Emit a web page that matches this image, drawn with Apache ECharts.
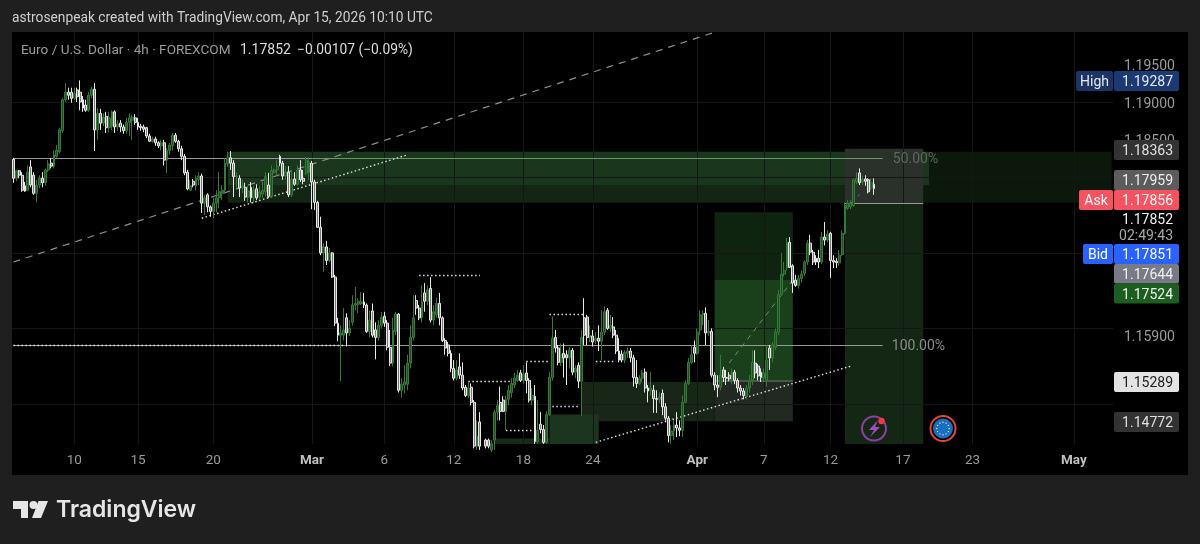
<!DOCTYPE html>
<html>
<head>
<meta charset="utf-8">
<style>
  html, body { margin: 0; padding: 0; background: #1f1f1f; }
  #chart { width: 1200px; height: 544px; }
</style>
<script src="https://cdn.jsdelivr.net/npm/echarts@6/dist/echarts.min.js"></script>
</head>
<body>
<div id="chart"></div>
<script>
// EUR/USD 4h bars, quoted in pips above 1.0000.
const opens = [1824,1799,1809,1803,1789,1783,1814,1803,1779,1790,1799,1793,1810,1819,1815,1828,1834,1862,1903,1913,1913,1905,1916,1913,1903,1896,1889,1909,1917,1863,1885,1872,1881,1866,1868,1887,1867,1872,1867,1862,1873,1876,1879,1873,1868,1867,1866,1855,1848,1851,1846,1842,1846,1823,1836,1842,1856,1848,1838,1828,1807,1783,1795,1789,1797,1802,1766,1777,1761,1755,1766,1773,1779,1783,1818,1826,1819,1801,1799,1786,1787,1774,1787,1773,1785,1774,1778,1781,1790,1775,1807,1810,1828,1819,1802,1807,1777,1798,1791,1810,1799,1806,1807,1819,1794,1767,1734,1700,1708,1690,1700,1668,1607,1591,1591,1614,1594,1608,1631,1632,1633,1635,1631,1596,1623,1598,1588,1604,1616,1607,1575,1554,1596,1619,1518,1525,1526,1554,1588,1637,1627,1614,1647,1636,1653,1611,1618,1633,1614,1584,1578,1567,1547,1534,1549,1538,1522,1511,1522,1502,1444,1476,1436,1452,1452,1439,1452,1489,1502,1505,1490,1506,1515,1525,1531,1541,1531,1541,1531,1505,1510,1450,1473,1466,1449,1486,1535,1588,1574,1555,1567,1565,1561,1571,1542,1551,1530,1614,1615,1588,1590,1584,1587,1583,1595,1624,1600,1602,1591,1570,1566,1558,1567,1570,1561,1535,1527,1534,1542,1521,1518,1518,1507,1506,1514,1496,1481,1458,1464,1472,1468,1465,1502,1527,1555,1575,1567,1598,1618,1620,1594,1596,1538,1525,1522,1545,1535,1538,1533,1542,1531,1521,1517,1510,1521,1531,1554,1550,1542,1534,1531,1574,1561,1575,1595,1645,1672,1680,1714,1683,1664,1657,1666,1673,1688,1713,1701,1693,1693,1688,1721,1717,1726,1690,1689,1687,1698,1726,1759,1761,1763,1794,1806,1794,1798,1797,1786,1791];
const closes = [1799,1809,1803,1783,1782,1807,1790,1779,1790,1799,1793,1810,1818,1815,1830,1836,1863,1903,1913,1909,1905,1911,1907,1900,1892,1889,1909,1917,1863,1885,1872,1880,1866,1879,1887,1867,1871,1867,1862,1873,1879,1880,1873,1867,1866,1864,1855,1848,1851,1846,1842,1846,1823,1836,1843,1856,1848,1838,1828,1806,1785,1789,1790,1799,1802,1766,1773,1761,1755,1766,1773,1781,1783,1819,1826,1819,1801,1802,1786,1789,1774,1782,1773,1783,1773,1781,1783,1801,1775,1809,1810,1815,1819,1802,1807,1777,1797,1791,1810,1797,1795,1823,1820,1794,1767,1734,1700,1708,1690,1700,1668,1607,1591,1594,1598,1594,1600,1631,1633,1636,1635,1631,1596,1611,1591,1588,1604,1615,1607,1575,1554,1598,1619,1518,1526,1529,1554,1588,1614,1627,1614,1635,1636,1651,1611,1622,1633,1614,1584,1574,1567,1547,1534,1545,1538,1521,1511,1521,1502,1444,1457,1444,1439,1444,1444,1447,1489,1498,1490,1490,1506,1518,1527,1534,1538,1531,1539,1531,1505,1511,1450,1465,1466,1449,1486,1535,1587,1574,1555,1565,1561,1561,1571,1542,1547,1530,1588,1591,1588,1591,1582,1587,1583,1595,1622,1600,1604,1591,1570,1558,1558,1568,1570,1561,1535,1527,1534,1541,1521,1517,1521,1507,1506,1509,1496,1481,1458,1464,1472,1468,1465,1502,1527,1555,1565,1567,1595,1618,1620,1594,1596,1538,1525,1522,1538,1535,1534,1533,1542,1531,1521,1517,1511,1521,1531,1555,1541,1537,1535,1541,1558,1561,1578,1595,1645,1672,1677,1714,1681,1660,1657,1666,1672,1688,1713,1701,1688,1688,1688,1721,1717,1725,1690,1688,1687,1697,1726,1763,1766,1766,1797,1799,1793,1797,1795,1781,1793,1785.2];
const lows = [1793,1795,1799,1781,1781,1782,1787,1777,1767,1786,1787,1789,1807,1812,1812,1826,1832,1859,1900,1903,1899,1903,1900,1889,1887,1887,1887,1905,1835,1850,1863,1868,1859,1860,1863,1859,1862,1860,1858,1858,1855,1850,1870,1863,1862,1860,1852,1847,1846,1842,1839,1836,1816,1806,1830,1836,1846,1834,1823,1803,1783,1783,1787,1783,1790,1753,1750,1754,1748,1746,1754,1759,1770,1779,1814,1810,1774,1786,1774,1779,1769,1767,1767,1766,1770,1771,1773,1775,1773,1773,1805,1803,1815,1797,1797,1774,1774,1789,1789,1794,1791,1803,1797,1758,1757,1733,1697,1675,1684,1688,1667,1603,1583,1530,1584,1576,1590,1604,1624,1620,1631,1627,1594,1588,1588,1559,1584,1600,1602,1571,1550,1550,1591,1515,1508,1514,1518,1547,1584,1618,1611,1608,1622,1631,1608,1604,1614,1604,1582,1565,1563,1542,1531,1531,1533,1518,1509,1508,1498,1441,1439,1439,1431,1441,1441,1436,1439,1478,1478,1489,1465,1498,1508,1521,1529,1529,1527,1514,1502,1498,1447,1447,1461,1447,1447,1484,1531,1568,1551,1550,1535,1525,1547,1538,1534,1521,1484,1578,1578,1582,1576,1579,1570,1558,1591,1598,1595,1587,1566,1555,1555,1554,1561,1555,1523,1521,1525,1529,1515,1502,1511,1488,1488,1501,1485,1478,1449,1447,1452,1456,1457,1456,1501,1525,1553,1555,1565,1591,1604,1578,1590,1535,1518,1509,1518,1529,1525,1530,1526,1526,1515,1511,1506,1506,1515,1525,1534,1531,1529,1529,1523,1545,1555,1571,1591,1643,1669,1677,1680,1647,1655,1653,1661,1669,1684,1697,1684,1684,1680,1685,1710,1714,1667,1680,1680,1683,1696,1724,1757,1758,1761,1791,1790,1790,1789,1779,1783,1777];
const highs = [1826,1810,1810,1807,1794,1816,1823,1807,1797,1803,1807,1812,1823,1826,1836,1843,1866,1905,1925,1919,1919,1919,1919,1928.7,1908,1903,1913,1920,1925,1892,1891,1885,1887,1887,1889,1889,1876,1876,1870,1879,1885,1883,1884,1879,1871,1870,1867,1858,1854,1854,1848,1850,1850,1839,1846,1859,1859,1850,1842,1831,1810,1797,1798,1803,1807,1805,1777,1779,1763,1773,1783,1807,1790,1826,1834,1835,1823,1807,1803,1797,1793,1789,1794,1789,1791,1789,1794,1807,1806,1816,1812,1823,1830,1822,1815,1815,1810,1807,1816,1823,1810,1827,1827,1822,1797,1769,1748,1713,1716,1706,1701,1671,1614,1604,1627,1620,1611,1644,1655,1640,1648,1647,1633,1624,1633,1608,1611,1622,1622,1611,1598,1614,1622,1620,1534,1551,1565,1604,1644,1644,1631,1657,1660,1657,1668,1631,1641,1647,1616,1587,1582,1571,1558,1558,1567,1555,1525,1529,1527,1505,1478,1489,1445,1454,1454,1452,1492,1505,1523,1510,1511,1525,1534,1541,1545,1545,1551,1555,1534,1521,1525,1505,1489,1472,1490,1542,1616,1598,1578,1580,1580,1571,1575,1574,1551,1555,1598,1640,1618,1604,1598,1595,1604,1624,1629,1627,1618,1615,1598,1587,1571,1571,1575,1574,1565,1558,1538,1545,1547,1525,1542,1525,1518,1515,1519,1501,1484,1472,1478,1489,1478,1511,1531,1561,1578,1584,1600,1624,1624,1628,1611,1600,1542,1538,1565,1549,1545,1542,1547,1545,1534,1525,1521,1525,1538,1571,1571,1553,1547,1547,1578,1578,1582,1600,1651,1700,1688,1720,1721,1685,1671,1671,1677,1690,1717,1724,1704,1697,1704,1728,1741,1730,1728,1697,1693,1704,1730,1767,1770,1770,1799,1807,1812,1802,1803,1799,1799,1799];

// Category slots: traded bars first, then empty future slots up to the right edge.
const slotCount = 380;
const slotNames = Array.from({ length: slotCount }, (_, i) => String(i));

// Time axis ticks.
const tickSlots = [21, 43, 69, 103, 128, 152, 176, 200, 236, 259, 282, 307, 331, 366];
const tickLabels = ['10', '15', '20', 'Mar', '6', '12', '18', '24', 'Apr', '7', '12', '17', '23', 'May'];
const monthTicks = ['Mar', 'Apr', 'May'];

// Price axis.
const axisMin = 1.14468;
const axisMax = 1.19928;
const priceLabels = [1.195, 1.19, 1.185, 1.159];
const gridPips = [1950, 1900, 1850, 1800, 1750, 1700, 1650, 1600, 1550, 1500, 1450];

// Drawn zones: [slotFrom, pipsFrom, slotTo, pipsTo, fill]
const zones = [
  [74, 1834, 379.5, 1767, '#0d180d'],
  [74, 1834, 316, 1790, '#1a361c'],
  [74, 1790, 287, 1767, '#132614'],
  [287, 1838, 314, 1766, '#2a312a'],
  [287, 1766, 314, 1445, '#132714'],
  [242, 1754, 269, 1664, '#0f240f'],
  [242, 1664, 269, 1529, '#193f1b'],
  [196, 1529, 242, 1477, '#182618'],
  [242, 1529, 269, 1477, '#222922'],
  [184.5, 1486, 202, 1445, '#1c351e'],
  [166, 1454, 184.5, 1445, '#162c16']
];

// Straight drawings: [slotFrom, pipsFrom, slotTo, pipsTo]
const solidGrey = [[0, 1826, 103, 1826], [0, 1578, 300, 1578], [287, 1766, 314, 1766]];
const solidGreen = [[103, 1826, 300, 1826]];
const solidDim = [[242, 1530, 269, 1530]];
const dashedTrend = [[0, 1688, 241.8, 1992.5]];
const dashedPath = [[247, 1554, 269, 1664], [289, 1766, 292, 1777]];
const dottedDrawings = [
  [65.4, 1746, 136, 1830],
  [201, 1449, 289, 1550],
  [0, 1578, 114, 1578],
  [140, 1671, 161, 1671],
  [185, 1619, 197, 1619],
  [177, 1557, 185, 1557],
  [157, 1530, 172, 1530],
  [170, 1465, 179, 1465],
  [186, 1497, 195, 1497],
  [201, 1557, 208, 1557]
];
const priceLine = [[0, 1787, 379.5, 1787]];

// Retracement captions.
const fibCaptions = [[311, 1826, '50.00%', '#5f675f'], [312, 1578, '100.00%', '#8a8a8a']];

// Price scale tags.
const tagTexts = ['1.19287', '1.18363', '1.17959', '1.17856', '1.17851', '1.17644', '1.17524', '1.15289', '1.14772'];
const sideTexts = ['High', '', '', 'Ask', 'Bid', '', '', '', ''];
const lastPriceText = '1.17852';
const countdownText = '02:49:43';

const header = 'astrosenpeak created with TradingView.com, Apr 15, 2026 10:10 UTC';
const symbolText = 'Euro / U.S. Dollar · 4h · FOREXCOM';
const quoteText = '1.17852';
const changeText = '−0.00107 (−0.09%)';

const toPrice = p => 1 + p / 10000;
const FONT = 'Roboto, sans-serif';

const candles = opens.map((o, i) => [toPrice(o), toPrice(closes[i]), toPrice(lows[i]), toPrice(highs[i])]);

const segments = (list, lineStyle) => list.map(([a, b, c, d]) => [
  { coord: [a, toPrice(b)], lineStyle },
  { coord: [c, toPrice(d)] }
]);

const gridLines = [
  ...tickSlots.map(s => ({ xAxis: s, lineStyle: { color: '#161616', width: 1, type: 'solid' } })),
  ...gridPips.map(p => ({ yAxis: toPrice(p), lineStyle: { color: '#161616', width: 1, type: 'solid' } }))
];

const layoutRows = [
  { top: 71, h: 20, bg: '#1b3a73', side: '#1a3468', sideX: 1076, fill: '#e8e8e8' },
  { top: 140, h: 20, bg: '#333333', fill: '#e0e0e0' },
  { top: 170, h: 20, bg: '#5c5c5c', fill: '#eeeeee' },
  { top: 190, h: 20, bg: '#f7525f', side: '#f7525f', sideX: 1079, fill: '#ffffff' },
  { top: 244, h: 20, bg: '#2962ff', side: '#2962ff', sideX: 1083, fill: '#ffffff' },
  { top: 264, h: 19.5, bg: '#787b86', fill: '#f0f0f0' },
  { top: 283.5, h: 20, bg: '#1b5e20', fill: '#f0f0f0' },
  { top: 372, h: 20, bg: '#e3e3e3', fill: '#1c1c1c' },
  { top: 412, h: 20, bg: '#333333', fill: '#e0e0e0' }
];

const label = (text, x, y, fill, size, extra) => ({
  type: 'text',
  z: 30,
  style: Object.assign({
    text, x, y, fill,
    font: `${size}px ${FONT}`,
    textAlign: 'left',
    textVerticalAlign: 'middle'
  }, extra || {})
});

const tagGraphics = [];
layoutRows.forEach((row, i) => {
  tagGraphics.push({
    type: 'rect', z: 29,
    shape: { x: 1114, y: row.top, width: 65, height: row.h, r: 2 },
    style: { fill: row.bg }
  });
  tagGraphics.push(label(tagTexts[i], 1173, row.top + row.h / 2 + 1.5, row.fill, 14, { textAlign: 'right' }));
  if (row.side) {
    tagGraphics.push({
      type: 'rect', z: 29,
      shape: { x: row.sideX, y: row.top, width: 1113 - row.sideX, height: row.h, r: 2 },
      style: { fill: row.side }
    });
    tagGraphics.push(label(sideTexts[i], (row.sideX + 1113) / 2, row.top + row.h / 2 + 1.5, row.fill, 14, { textAlign: 'center' }));
  }
});

// Circular event markers on the time axis.
const euStars = Array.from({ length: 12 }, (_, i) => ({
  type: 'circle', z: 32,
  shape: { cx: 943 + 6.2 * Math.cos(i * Math.PI / 6), cy: 428.5 + 6.2 * Math.sin(i * Math.PI / 6), r: 0.7 },
  style: { fill: '#e8eef5' }
}));

const panelGraphics = [
  { type: 'rect', z: -100, shape: { x: 12, y: 32, width: 1176, height: 443 }, style: { fill: '#000000' } }
];

const overlayGraphics = [
  label(header, 12, 18.5, '#cfcfcf', 13.75),
  label(symbolText, 21, 50.5, '#9a9a9a', 13.6),
  label(quoteText, 240, 50.5, '#dcdcdc', 14),
  label(changeText, 297, 50.5, '#dcdcdc', 13.8),
  label(lastPriceText, 1173, 220.5, '#f0f0f0', 14, { textAlign: 'right' }),
  label(countdownText, 1173, 236.5, '#a8a8a8', 14, { textAlign: 'right' }),

  { type: 'circle', z: 31, shape: { cx: 874, cy: 428.5, r: 12 }, style: { fill: 'transparent', stroke: '#8e3fa8', lineWidth: 2 } },
  { type: 'polygon', z: 32, shape: { points: [[878, 420], [869, 430], [874, 430], [870, 437], [880, 427], [875, 427]] }, style: { fill: '#a24cc0' } },
  { type: 'circle', z: 33, shape: { cx: 881.5, cy: 421, r: 3.2 }, style: { fill: '#f23645' } },
  { type: 'circle', z: 31, shape: { cx: 943, cy: 428.5, r: 12.5 }, style: { fill: '#000000', stroke: '#e8433f', lineWidth: 2 } },
  { type: 'circle', z: 31, shape: { cx: 943, cy: 428.5, r: 10 }, style: { fill: '#1a6fc0' } },
  ...euStars,

  { type: 'polygon', z: 30, shape: { points: [[13, 501], [28, 501], [28, 518], [21, 518], [21, 509], [13, 509]] }, style: { fill: '#e6e6e6' } },
  { type: 'circle', z: 30, shape: { cx: 33.5, cy: 505, r: 4 }, style: { fill: '#e6e6e6' } },
  { type: 'polygon', z: 30, shape: { points: [[38.5, 501], [48, 501], [41, 518], [32, 518]] }, style: { fill: '#e6e6e6' } },
  label('TradingView', 56, 510.5, '#e6e6e6', 23, { font: '600 23px Inter, Roboto, sans-serif' })
];

const chart = echarts.init(document.getElementById('chart'), null, { renderer: 'canvas' });

chart.setOption({
  animation: false,
  backgroundColor: 'transparent',
  grid: { left: 12, right: 87, top: 32, bottom: 100 },
  xAxis: {
    type: 'category',
    data: slotNames,
    boundaryGap: true,
    axisLine: { show: false },
    axisTick: { show: false },
    splitLine: { show: false },
    axisLabel: {
      margin: 10,
      hideOverlap: false,
      interval: idx => tickSlots.includes(idx),
      formatter: (_, idx) => {
        const text = tickLabels[tickSlots.indexOf(idx)];
        return monthTicks.includes(text) ? `{m|${text}}` : text;
      },
      color: '#9a9a9a',
      fontFamily: FONT,
      fontSize: 13.5,
      rich: { m: { color: '#c0c0c0', fontFamily: FONT, fontSize: 13.5, fontWeight: 700 } }
    }
  },
  yAxis: {
    type: 'value',
    position: 'right',
    scale: true,
    min: axisMin,
    max: axisMax,
    axisLine: { show: false },
    axisTick: { show: false },
    splitLine: { show: false },
    axisLabel: {
      margin: 11,
      verticalAlign: 'top',
      lineHeight: 4,
      customValues: priceLabels,
      formatter: v => v.toFixed(5),
      color: '#9a9a9a',
      fontFamily: FONT,
      fontSize: 14
    }
  },
  series: [
    {
      name: 'grid',
      type: 'line',
      z: 1,
      data: [],
      silent: true,
      markLine: { silent: true, symbol: 'none', label: { show: false }, data: gridLines }
    },
    {
      name: 'zones',
      type: 'line',
      z: 2,
      data: [],
      silent: true,
      markArea: {
        silent: true,
        data: zones.map(([a, b, c, d, fill]) => [
          { coord: [a, toPrice(b)], itemStyle: { color: fill, opacity: 1 } },
          { coord: [c, toPrice(d)] }
        ])
      }
    },
    {
      name: 'EUR/USD',
      type: 'candlestick',
      z: 5,
      barWidth: 2.4,
      data: candles,
      itemStyle: {
        color: '#234f25',
        color0: '#7a7a7a',
        borderColor: '#357a38',
        borderColor0: '#e8e8e8',
        borderWidth: 1
      }
    },
    {
      name: 'drawings',
      type: 'line',
      z: 6,
      data: [],
      silent: true,
      markLine: {
        silent: true,
        symbol: 'none',
        label: { show: false },
        data: [
          ...segments(priceLine, { color: '#3a3a3a', width: 1, type: [1.5, 3] }),
          ...segments(solidGrey, { color: '#989898', width: 1, type: 'solid' }),
          ...segments(solidGreen, { color: '#6a966c', width: 1, type: 'solid' }),
          ...segments(solidDim, { color: '#5a5f5a', width: 1.5, type: 'solid' }),
          ...segments(dashedTrend, { color: '#8f8f8f', width: 1.2, type: [7, 6] }),
          ...segments(dashedPath, { color: '#6b956d', width: 1, type: [5, 5] }),
          ...segments(dottedDrawings, { color: '#e0e0e0', width: 1.4, type: [1.5, 2.5] })
        ]
      },
      markPoint: {
        silent: true,
        symbol: 'circle',
        symbolSize: 0,
        data: fibCaptions.map(([s, p, text, color]) => ({
          coord: [s, toPrice(p)],
          label: { show: true, formatter: text, color, fontFamily: FONT, fontSize: 14, position: 'inside', offset: [1, 2] }
        }))
      }
    }
  ],
  graphic: { elements: [...panelGraphics, ...tagGraphics, ...overlayGraphics] }
});
</script>
</body>
</html>
